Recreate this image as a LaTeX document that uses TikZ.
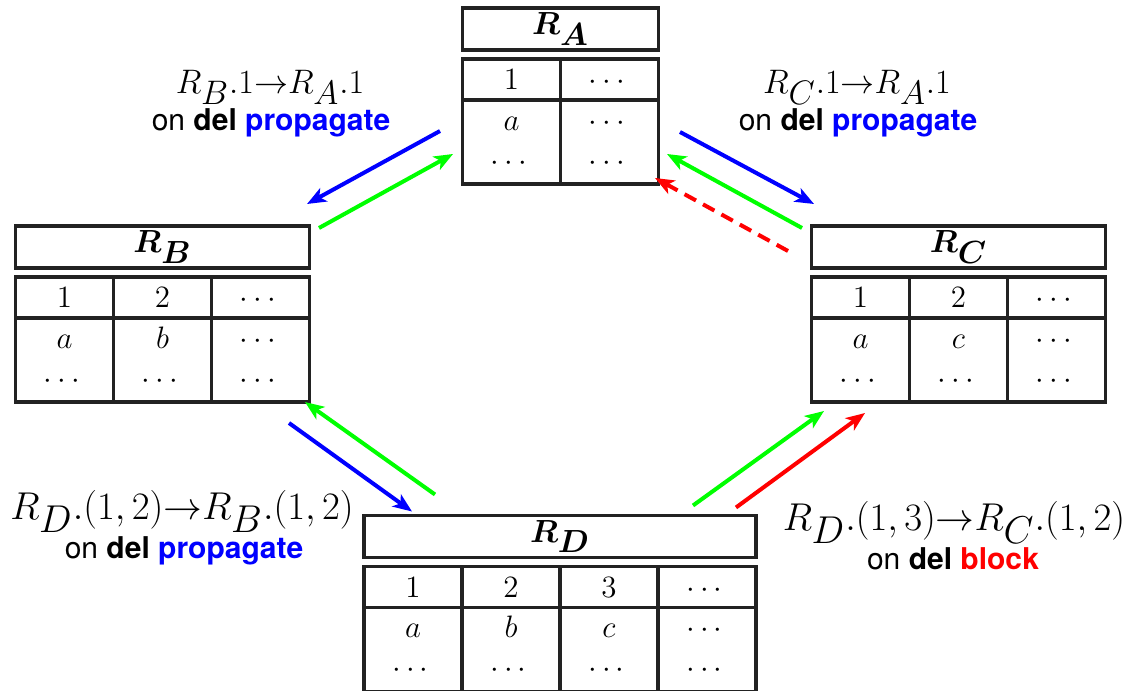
\RequirePackage{fix-cm}
\documentclass[tikz,border=0pt]{standalone}
\usepackage{amsmath,bm}
\usepackage{fontspec}
\setsansfont{TeX Gyre Heros}
\usetikzlibrary{arrows.meta,positioning}
\definecolor{bleu}{RGB}{0,0,255}
\definecolor{vert}{RGB}{0,255,0}
\definecolor{rouge}{RGB}{255,0,0}
\definecolor{encre}{HTML}{222222}
\newcommand{\deuxlignes}[2]{\strut$#1$\\\strut$#2$}

\begin{document}
\begin{tikzpicture}[
    x=0.5pt, y=-0.5pt,
    font=\fontsize{15.5}{20}\selectfont,
    titre/.style={rectangle, draw=encre, line width=1.65pt, minimum height=21pt,
      inner sep=0pt, outer sep=0pt, font=\fontsize{16}{20}\selectfont},
    entete/.style={rectangle, draw=encre, line width=1.65pt, minimum width=49pt,
      minimum height=20.5pt, text height=10pt, text depth=0pt, inner sep=0pt, outer sep=0pt},
    corps/.style={rectangle, draw=encre, line width=1.65pt, minimum width=49pt,
      minimum height=42pt, inner sep=0pt, outer sep=0pt, align=center},
    regle/.style={font=\fontsize{17}{19}\selectfont, anchor=base, inner sep=0pt},
    evt/.style={font=\fontsize{15}{17}\sffamily, anchor=base, inner sep=0pt},
    fleche/.style={line width=2pt, -{Stealth[length=9.5pt, width=7.5pt, inset=2.5pt]}}
  ]
    \useasboundingbox (0,0) rectangle (1127,690);
    % R_A
    \node[titre, minimum width=98pt] (RA) at (560.5,29) {$\bm{R_{\textstyle A}}$};
    \node[entete, anchor=north west] (RA-h1) at ([yshift=-4.5pt]RA.south west) {$1$};
    \node[entete, right=0pt of RA-h1] (RA-h2) {$\cdots$};
    \node[corps, below=0pt of RA-h1] (RA-c1) {\deuxlignes{a}{\cdots}};
    \node[corps, below=0pt of RA-h2] (RA-c2) {\deuxlignes{\cdots}{\cdots}};
    % R_B
    \node[titre, minimum width=147pt] (RB) at (162.5,247) {$\bm{R_{\textstyle B}}$};
    \node[entete, anchor=north west] (RB-h1) at ([yshift=-4.5pt]RB.south west) {$1$};
    \node[entete, right=0pt of RB-h1] (RB-h2) {$2$};
    \node[entete, right=0pt of RB-h2] (RB-h3) {$\cdots$};
    \node[corps, below=0pt of RB-h1] (RB-c1) {\deuxlignes{a}{\cdots}};
    \node[corps, below=0pt of RB-h2] (RB-c2) {\deuxlignes{b}{\cdots}};
    \node[corps, below=0pt of RB-h3] (RB-c3) {\deuxlignes{\cdots}{\cdots}};
    % R_C
    \node[titre, minimum width=147pt] (RC) at (958.5,247) {$\bm{R_{\textstyle C}}$};
    \node[entete, anchor=north west] (RC-h1) at ([yshift=-4.5pt]RC.south west) {$1$};
    \node[entete, right=0pt of RC-h1] (RC-h2) {$2$};
    \node[entete, right=0pt of RC-h2] (RC-h3) {$\cdots$};
    \node[corps, below=0pt of RC-h1] (RC-c1) {\deuxlignes{a}{\cdots}};
    \node[corps, below=0pt of RC-h2] (RC-c2) {\deuxlignes{c}{\cdots}};
    \node[corps, below=0pt of RC-h3] (RC-c3) {\deuxlignes{\cdots}{\cdots}};
    % R_D
    \node[titre, minimum width=196pt] (RD) at (560,536.5) {$\bm{R_{\textstyle D}}$};
    \node[entete, anchor=north west] (RD-h1) at ([yshift=-4.5pt]RD.south west) {$1$};
    \node[entete, right=0pt of RD-h1] (RD-h2) {$2$};
    \node[entete, right=0pt of RD-h2] (RD-h3) {$3$};
    \node[entete, right=0pt of RD-h3] (RD-h4) {$\cdots$};
    \node[corps, below=0pt of RD-h1] (RD-c1) {\deuxlignes{a}{\cdots}};
    \node[corps, below=0pt of RD-h2] (RD-c2) {\deuxlignes{b}{\cdots}};
    \node[corps, below=0pt of RD-h3] (RD-c3) {\deuxlignes{c}{\cdots}};
    \node[corps, below=0pt of RD-h4] (RD-c4) {\deuxlignes{\cdots}{\cdots}};
    % regles
    \node[regle] (regle-ba) at (270,93) {$R_{\textstyle B}.1{\rightarrow}R_{\textstyle A}.1$};
    \node[evt] (evt-ba) at (271,130) {on \textbf{del} \textcolor{bleu}{\textbf{propagate}}};
    \node[regle] (regle-ca) at (857,93) {$R_{\textstyle C}.1{\rightarrow}R_{\textstyle A}.1$};
    \node[evt] (evt-ca) at (858,130) {on \textbf{del} \textcolor{bleu}{\textbf{propagate}}};
    \node[regle, font=\fontsize{19.4}{21}\selectfont] (regle-db) at (182,519)
      {$R_{\textstyle D}.(1,2){\rightarrow}R_{\textstyle B}.(1,2)$};
    \node[evt] (evt-db) at (184,558) {on \textbf{del} \textcolor{bleu}{\textbf{propagate}}};
    \node[regle, font=\fontsize{19.4}{21}\selectfont] (regle-dc) at (954,530)
      {$R_{\textstyle D}.(1,3){\rightarrow}R_{\textstyle C}.(1,2)$};
    \node[evt] (evt-dc) at (953,569) {on \textbf{del} \textcolor{rouge}{\textbf{block}}};
    % fleches
    \draw[fleche, bleu] ([shift={(-22.5,31)}]RA-c1.north west) -- ([shift={(-2.5,-22)}]RB.north east);
    \draw[fleche, vert] ([shift={(9.5,2)}]RB.north east) -- ([shift={(-9.5,54)}]RA-c1.north west);
    \draw[fleche, bleu] ([shift={(21.5,32)}]RA-c2.north east) -- ([shift={(2.5,-22)}]RC.north west);
    \draw[fleche, vert] ([shift={(-9.5,2)}]RC.north west) -- ([shift={(8.5,54)}]RA-c2.north east);
    \draw[fleche, rouge, dash pattern=on 6.5pt off 4pt] ([shift={(-23.5,4)}]RC.west) -- ([shift={(-3.5,-6)}]RA-c2.south east);
    \draw[fleche, vert] ([shift={(71,-21)}]RD.north west) -- ([shift={(-4.5,0)}]RB-c3.south east);
    \draw[fleche, bleu] ([shift={(-20.5,21)}]RB-c3.south east) -- ([shift={(48,-4)}]RD.north west);
    \draw[fleche, vert] ([shift={(-63,-10)}]RD.north east) -- ([shift={(12.5,9)}]RC-c1.south west);
    \draw[fleche, rouge] ([shift={(-20,-8)}]RD.north east) -- ([shift={(53.5,11)}]RC-c1.south west);
\end{tikzpicture}
\end{document}
